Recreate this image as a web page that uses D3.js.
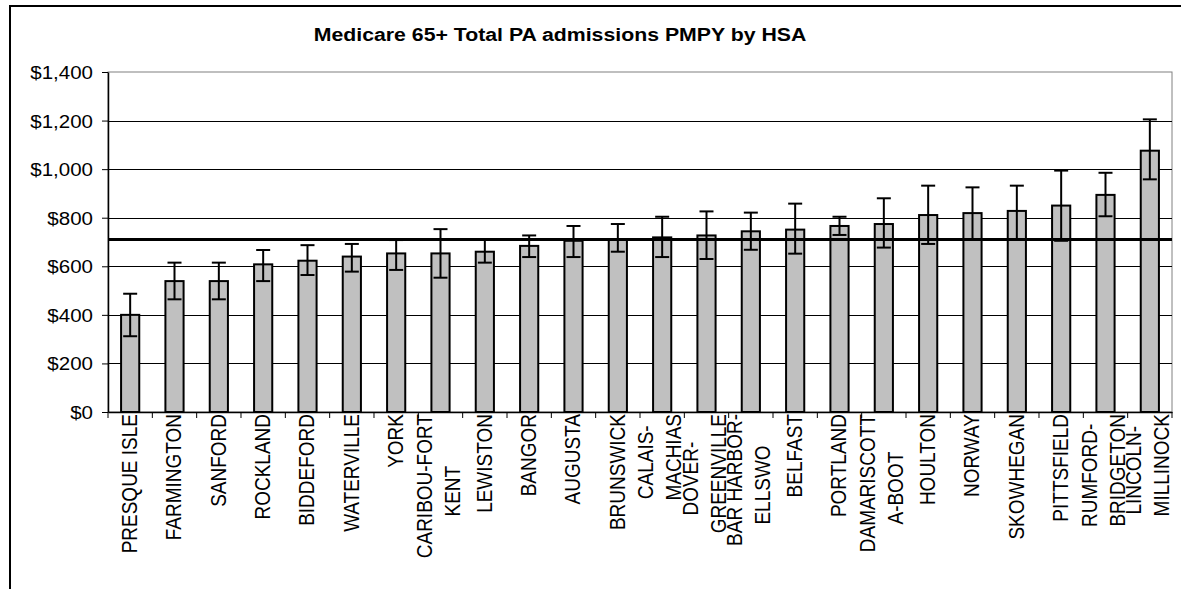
<!DOCTYPE html>
<html>
<head>
<meta charset="utf-8">
<script src="https://cdn.jsdelivr.net/npm/d3@7"></script>
<style>
  html, body { margin: 0; padding: 0; background: #fff; }
  svg { display: block; font-family: Arial, "Liberation Sans", sans-serif; }
</style>
</head>
<body>
<svg id="chart" width="1181" height="589"></svg>
<script>
// ---- data ----
const categories = ["PRESQUE ISLE","FARMINGTON","SANFORD","ROCKLAND","BIDDEFORD","WATERVILLE","YORK",
  "CARIBOU-FORT KENT","LEWISTON","BANGOR","AUGUSTA","BRUNSWICK","CALAIS-MACHIAS","DOVER-GREENVILLE",
  "BAR HARBOR-ELLSWO","BELFAST","PORTLAND","DAMARISCOTTA-BOOT","HOULTON","NORWAY","SKOWHEGAN",
  "PITTSFIELD","RUMFORD-BRIDGETON","LINCOLN-MILLINOCK"];
const tickLabels = ["PRESQUE ISLE","FARMINGTON","SANFORD","ROCKLAND","BIDDEFORD","WATERVILLE","YORK",
  "CARIBOU-FORT\nKENT","LEWISTON","BANGOR","AUGUSTA","BRUNSWICK","CALAIS-\nMACHIAS","DOVER-\nGREENVILLE",
  "BAR HARBOR-\nELLSWO","BELFAST","PORTLAND","DAMARISCOTT\nA-BOOT","HOULTON","NORWAY","SKOWHEGAN",
  "PITTSFIELD","RUMFORD-\nBRIDGETON","LINCOLN-\nMILLINOCK"];
const values = [400, 539, 539, 608, 623, 640, 653, 653, 660, 684, 705, 711, 719, 727, 744, 751, 766, 774, 811, 819, 828, 850, 894, 1076];
const lowerCI = [312, 464, 464, 539, 564, 578, 585, 553, 615, 638, 638, 660, 638, 630, 668, 652, 729, 677, 692, 712, 712, 705, 806, 958];
const upperCI = [487, 615, 615, 667, 687, 692, 708, 753, 711, 727, 766, 774, 804, 826, 821, 858, 804, 880, 932, 925, 932, 994, 985, 1205];
const stateAverage = 710;
const yTicks = [0, 200, 400, 600, 800, 1000, 1200, 1400];
const title = "Medicare 65+ Total PA admissions PMPY by HSA";

// ---- layout ----
const L = 108, R = 1172, T = 72, B = 412;
const svg = d3.select("#chart");
svg.append("rect").attr("width", 1181).attr("height", 589).attr("fill", "#fff");
// outer chart border
svg.append("rect").attr("x", 10).attr("y", 6).attr("width", 1400).attr("height", 800)
  .attr("fill", "none").attr("stroke", "#000").attr("stroke-width", 2);

const x = d3.scaleBand().domain(categories).range([L, R]).padding(0);
const y = d3.scaleLinear().domain([0, 1400]).range([B, T]);
const step = x.step();
const barW = step * 0.41;

// plot area border
svg.append("rect").attr("x", L).attr("y", T).attr("width", R - L).attr("height", B - T)
  .attr("fill", "none").attr("stroke", "#808080").attr("stroke-width", 1);

// gridlines
const grid = svg.append("g").attr("transform", `translate(${L},0)`)
  .call(d3.axisLeft(y).tickValues(yTicks.slice(1, -1)).tickSize(-(R - L)).tickFormat(""));
grid.select(".domain").remove();
grid.selectAll(".tick line").attr("stroke", "#000").attr("stroke-width", 1).attr("shape-rendering", "crispEdges");

// bars
svg.append("g").selectAll("rect").data(categories).join("rect")
  .attr("x", d => x(d) + (step - barW) / 2)
  .attr("y", (d, i) => y(values[i]))
  .attr("width", barW)
  .attr("height", (d, i) => y(0) - y(values[i]))
  .attr("fill", "#C0C0C0").attr("stroke", "#000").attr("stroke-width", 2);

// error bars
const eb = svg.append("g").attr("stroke", "#000").attr("stroke-width", 2);
categories.forEach((c, i) => {
  const cx = x(c) + step / 2;
  eb.append("line").attr("x1", cx).attr("x2", cx).attr("y1", y(lowerCI[i])).attr("y2", y(upperCI[i]));
  eb.append("line").attr("x1", cx - 7).attr("x2", cx + 7).attr("y1", y(lowerCI[i])).attr("y2", y(lowerCI[i]));
  eb.append("line").attr("x1", cx - 7).attr("x2", cx + 7).attr("y1", y(upperCI[i])).attr("y2", y(upperCI[i]));
});

// average line
svg.append("line").attr("x1", L).attr("x2", R).attr("y1", y(stateAverage)).attr("y2", y(stateAverage))
  .attr("stroke", "#000").attr("stroke-width", 3);

// y axis
const yAxis = svg.append("g").attr("transform", `translate(${L},0)`)
  .call(d3.axisLeft(y).tickValues(yTicks).tickFormat(d3.format("$,")).tickSize(6).tickSizeOuter(0));
yAxis.select(".domain").attr("stroke", "#000").attr("stroke-width", 1.5);
yAxis.selectAll(".tick line").attr("stroke", "#000").attr("stroke-width", 1);
yAxis.selectAll(".tick text")
  .attr("font-size", 19).attr("font-family", "Arial, 'Liberation Sans', sans-serif").attr("fill", "#000")
  .attr("x", -15 / 1.08).attr("dy", "0.34em")
  .attr("transform", "scale(1.08,1)");

// x axis (ticks between categories)
const xAxis = svg.append("g").attr("transform", `translate(0,${B})`)
  .call(d3.axisBottom(x).tickSize(6).tickSizeOuter(0).tickFormat(""));
xAxis.select(".domain").attr("stroke", "#000").attr("stroke-width", 1.5);
xAxis.selectAll(".tick line").attr("x1", -step / 2).attr("x2", -step / 2).attr("stroke", "#000");
xAxis.append("line").attr("x1", R).attr("x2", R).attr("y1", 0).attr("y2", 6).attr("stroke", "#000");

// x labels (rotated, multi-line)
const labTop = 414;
const lab = svg.append("g").attr("font-size", 19).attr("fill", "#000");
categories.forEach((c, i) => {
  const lines = tickLabels[i].split("\n");
  const cx = x(c) + step / 2 - (lines.length > 1 ? 2.5 : 1);
  const gap = 28;
  const texts = lines.map((ln, k) => {
    const off = (k - (lines.length - 1) / 2) * gap;
    return lab.append("text").text(ln).attr("text-anchor", "middle").attr("dy", "0.35em")
      .datum({ cx: cx + off });
  });
  const lens = texts.map(t => t.node().getComputedTextLength());
  const maxLen = d3.max(lens);
  texts.forEach((t, k) => {
    const shift = lens[k] < maxLen ? 5 : 0;
    const cy = labTop + maxLen / 2 + shift;
    t.attr("transform", `translate(${t.datum().cx},${cy}) rotate(-90) scale(1,1.16)`);
  });
});

// title
svg.append("text").attr("transform", "translate(560,41) scale(1.12,1)")
  .attr("text-anchor", "middle").attr("font-size", 19).attr("font-weight", "bold")
  .attr("fill", "#000").text(title);
</script>
</body>
</html>
